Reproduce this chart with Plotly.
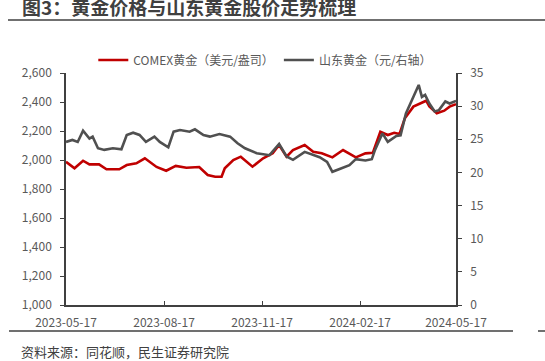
import plotly.graph_objects as go

# COMEX gold (USD/oz) - left axis
comex_dates = ["2023-05-17","2023-05-25","2023-06-02","2023-06-08","2023-06-17","2023-06-24",
    "2023-07-06","2023-07-13","2023-07-22","2023-07-30","2023-08-10","2023-08-19","2023-08-28",
    "2023-09-07","2023-09-19","2023-09-27","2023-10-04","2023-10-10","2023-10-13","2023-10-21",
    "2023-10-28","2023-11-08","2023-11-18","2023-11-27","2023-12-03","2023-12-10","2023-12-16",
    "2023-12-27","2024-01-04","2024-01-12","2024-01-22","2024-02-01","2024-02-13","2024-02-22",
    "2024-02-29","2024-03-07","2024-03-14","2024-03-20","2024-03-25","2024-03-30","2024-04-07",
    "2024-04-16","2024-04-19","2024-04-22","2024-04-29","2024-05-06","2024-05-11","2024-05-17"]
comex_vals = [1988,1943,1995,1970,1970,1936,
    1936,1965,1977,2012,1952,1926,1959,
    1947,1952,1897,1885,1885,1943,2000,
    2023,1954,2012,2046,2103,2023,2069,
    2103,2057,2046,2018,2069,2018,2046,
    2050,2195,2172,2188,2180,2288,2368,
    2395,2409,2370,2322,2340,2368,2385]

# Shandong Gold share price (CNY) - right axis
sd_dates = ["2023-05-17","2023-05-23","2023-05-28","2023-06-02","2023-06-08","2023-06-11",
    "2023-06-16","2023-06-22","2023-06-30","2023-07-08","2023-07-13","2023-07-19","2023-07-25",
    "2023-07-31","2023-08-08","2023-08-13","2023-08-21","2023-08-26","2023-09-01","2023-09-10",
    "2023-09-15","2023-09-23","2023-09-29","2023-10-08","2023-10-18","2023-10-25","2023-11-01",
    "2023-11-12","2023-11-24","2023-12-03","2023-12-10","2023-12-16","2023-12-27","2024-01-04",
    "2024-01-10","2024-01-17","2024-01-22","2024-01-30","2024-02-07","2024-02-13","2024-02-22",
    "2024-02-28","2024-03-02","2024-03-09","2024-03-14","2024-03-22","2024-03-26","2024-03-31",
    "2024-04-07","2024-04-12","2024-04-15","2024-04-18","2024-04-22","2024-04-27","2024-05-01",
    "2024-05-07","2024-05-11","2024-05-17"]
sd_vals = [24.6,24.9,24.6,26.3,25.1,25.4,
    23.65,23.4,23.65,23.5,25.65,26.0,25.65,
    24.6,25.4,24.6,23.8,26.15,26.4,26.15,
    26.5,25.65,25.4,25.8,25.4,24.4,23.65,
    22.9,22.6,24.3,22.4,21.9,23.1,22.6,
    22.3,21.6,20.1,20.6,21.1,22.0,21.8,
    22.0,23.4,25.9,24.6,25.5,25.6,28.9,
    31.4,33.2,31.4,31.7,30.4,29.2,29.4,
    30.7,30.4,30.8]

x_ticks = ["2023-05-17","2023-08-17","2023-11-17","2024-02-17","2024-05-17"]

FONT = "Noto Sans CJK SC"
AX = "#404040"
TXT = "#595959"

fig = go.Figure()
fig.add_trace(go.Scatter(x=comex_dates, y=comex_vals, mode="lines",
    name="COMEX黄金（美元/盎司）", line=dict(color="#C00000", width=2.6)))
fig.add_trace(go.Scatter(x=sd_dates, y=sd_vals, mode="lines", yaxis="y2",
    name="山东黄金（元/右轴）", line=dict(color="#505050", width=2.6)))

fig.update_layout(
    width=545, height=361,
    margin=dict(l=66, r=89, t=73, b=56),
    paper_bgcolor="white", plot_bgcolor="white",
    font=dict(family=FONT, size=12, color=TXT),
    showlegend=True,
    legend=dict(orientation="h", x=0.07, y=1.056, xanchor="left", yanchor="middle",
                font=dict(size=12, color=TXT), itemwidth=30, tracegroupgap=0,
                bgcolor="rgba(0,0,0,0)"),
    xaxis=dict(type="date", range=["2023-05-17","2024-05-17"], tickvals=x_ticks,
               ticktext=x_ticks, showgrid=False, showline=True, linecolor=AX, linewidth=1.5,
               ticks="inside", ticklen=4, tickcolor=AX, zeroline=False,
               tickfont=dict(size=12, color=TXT), ticklabelstandoff=6),
    yaxis=dict(range=[1000,2600], dtick=200, tickformat=",", showgrid=False, showline=True,
               linecolor=AX, linewidth=1.5, ticks="outside", ticklen=4, tickcolor=AX,
               zeroline=False, tickfont=dict(size=12, color=TXT), ticklabelstandoff=6),
    yaxis2=dict(range=[0,35], dtick=5, overlaying="y", side="right", showgrid=False,
                showline=True, linecolor=AX, linewidth=1.5, ticks="outside", ticklen=4,
                tickcolor=AX, zeroline=False, tickfont=dict(size=12, color=TXT),
                ticklabelstandoff=6),
)

# Title, rules and source note
fig.add_annotation(text="<b>图3：黄金价格与山东黄金股价走势梳理</b>", xref="paper", yref="paper",
    x=(20-66)/390, y=(305-7)/232, xanchor="left", yanchor="middle", showarrow=False,
    font=dict(family=FONT, size=19, color="#404040"))
fig.add_shape(type="line", xref="paper", yref="paper", x0=(8-66)/390, x1=(545-66)/390,
    y0=(305-20)/232, y1=(305-20)/232, line=dict(color="#404040", width=1.5))
fig.add_shape(type="line", xref="paper", yref="paper", x0=(9-66)/390, x1=(513-66)/390,
    y0=(305-331)/232, y1=(305-331)/232, line=dict(color="#404040", width=1.5))
fig.add_shape(type="line", xref="paper", yref="paper", x0=(538-66)/390, x1=(545-66)/390,
    y0=(305-331)/232, y1=(305-331)/232, line=dict(color="#404040", width=1.5))
fig.add_annotation(text="资料来源：同花顺，民生证券研究院", xref="paper", yref="paper",
    x=(19-66)/390, y=(305-351)/232, xanchor="left", yanchor="middle", showarrow=False,
    font=dict(family=FONT, size=13, color="#404040"))

fig.write_html("out.html")
